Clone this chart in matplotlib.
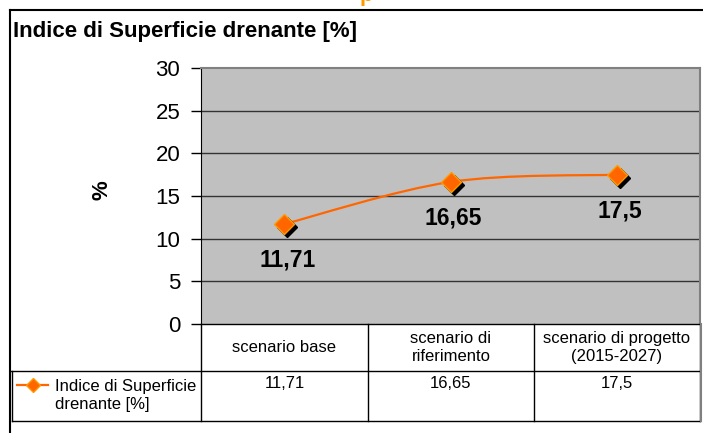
import matplotlib
matplotlib.use("Agg")
import matplotlib.pyplot as plt
from matplotlib.path import Path
from matplotlib.patches import PathPatch
from matplotlib.lines import Line2D
import matplotlib.transforms as mtransforms

plt.rcParams['font.family'] = ['Liberation Sans', 'DejaVu Sans']

# dati
categorie = ['scenario base', 'scenario di\nriferimento', 'scenario di progetto\n(2015-2027)']
valori = [11.71, 16.65, 17.5]
etichette = ['11,71', '16,65', '17,5']
serie = 'Indice di Superficie\ndrenante [%]'
titolo = 'Indice di Superficie drenante [%]'
y_ticks = [0, 5, 10, 15, 20, 25, 30]

W, H = 703, 433
ARANCIO = '#FF6600'

fig = plt.figure(figsize=(W / 100, H / 100), dpi=100)


def fx(x):
    return x / W


def fy(y):
    return 1 - y / H


# area del grafico (pixel)
L, R, T, B = 201, 700, 68, 324
ax = fig.add_axes([fx(L), fy(B), fx(R - L), (B - T) / H])
ax.set_facecolor('#C0C0C0')
ax.set_xlim(-0.5, 2.5)
ax.set_ylim(0, 30)
ax.set_yticks(y_ticks)
ax.set_yticklabels([str(t) for t in y_ticks], fontsize=16)
ax.set_xticks([])
ax.tick_params(axis='y', length=7, width=1, pad=8, direction='out')
for y in y_ticks[1:-1]:
    ax.axhline(y, color='#333333', lw=1, zorder=1)
ax.spines['left'].set_color('black')
ax.spines['top'].set_color('#808080')
ax.spines['top'].set_linewidth(1.5)
ax.spines['right'].set_color('#808080')
ax.spines['right'].set_linewidth(1.5)
ax.spines['bottom'].set_visible(False)
ax.set_ylabel('%', fontsize=16, fontweight='bold')
ax.yaxis.set_label_coords((112 - L) / (R - L), (B - 190) / (B - T))

# linea smussata (curva di Bezier tipo Excel)
xs = list(range(len(valori)))
pts = list(zip(xs, valori))
verts = [pts[0]]
codes = [Path.MOVETO]
for i in range(len(pts) - 1):
    p0 = pts[i - 1] if i > 0 else pts[i]
    p1 = pts[i]
    p2 = pts[i + 1]
    p3 = pts[i + 2] if i + 2 < len(pts) else pts[i + 1]
    c1 = (p1[0] + (p2[0] - p0[0]) / 6, p1[1] + (p2[1] - p0[1]) / 6)
    c2 = (p2[0] - (p3[0] - p1[0]) / 6, p2[1] - (p3[1] - p1[1]) / 6)
    verts += [c1, c2, p2]
    codes += [Path.CURVE4] * 3
ax.add_patch(PathPatch(Path(verts, codes), fill=False, edgecolor=ARANCIO, lw=1.6, zorder=3))

# ombra dei marcatori
ombra = mtransforms.offset_copy(ax.transData, fig=fig, x=3, y=-3, units='dots')
ax.plot(xs, valori, linestyle='none', marker='D', ms=10, color='black', transform=ombra, zorder=4)
ax.plot(xs, valori, linestyle='none', marker='D', ms=10, markerfacecolor=ARANCIO,
        markeredgecolor='#FF9900', markeredgewidth=1, zorder=5)

for x, v, lab in zip(xs, valori, etichette):
    ax.annotate(lab, (x, v), xytext=(3, -36), textcoords='offset pixels', ha='center', va='center',
                fontsize=16.5, fontweight='bold', zorder=6)

# cornice del grafico
fig.add_artist(Line2D([fx(10), fx(10)], [fy(10), 0], transform=fig.transFigure, color='black', lw=1.5))
fig.add_artist(Line2D([fx(10), 1], [fy(10), fy(10)], transform=fig.transFigure, color='black', lw=1.5))
fig.text(fx(13), fy(31), titolo, fontsize=16, fontweight='bold', va='center', ha='left')

# frammento di testo tagliato in alto
fig.text(fx(360), fy(1), 'p', color='#FF9900', fontsize=16, fontweight='bold', va='baseline')

# tabella dati
cols = [L, 368, 534, R]
r1, r2, r3 = B, 371, 421


def linea(x0, y0, x1, y1, c='black', lw=1):
    fig.add_artist(Line2D([fx(x0), fx(x1)], [fy(y0), fy(y1)], transform=fig.transFigure, color=c, lw=lw))


for c in cols:
    linea(c, r1, c, r3)
linea(L, r1, R, r1)
linea(10, r2, R, r2)
linea(12, r3, R, r3)
linea(12, r2, 12, r3)
linea(R + 1, r1, R + 1, r3, c='#808080', lw=1.5)

for i, (cat, v) in enumerate(zip(categorie, valori)):
    cx = (cols[i] + cols[i + 1]) / 2
    fig.text(fx(cx), fy((r1 + r2) / 2), cat, ha='center', va='center', fontsize=12,
             linespacing=1.25)
    fig.text(fx(cx), fy(384), f'{v:g}'.replace('.', ','), ha='center', va='center', fontsize=12)

# legenda nella tabella
fig.add_artist(Line2D([fx(17), fx(48)], [fy(385), fy(385)], transform=fig.transFigure,
                      color=ARANCIO, lw=1.6))
fig.add_artist(Line2D([fx(32.5)], [fy(385)], transform=fig.transFigure, linestyle='none',
                      marker='D', ms=7, markerfacecolor=ARANCIO, markeredgecolor='#FF9900'))
fig.text(fx(55), fy(396), serie, ha='left', va='center', fontsize=12, linespacing=1.25)

fig.savefig('out.png', dpi=100)
